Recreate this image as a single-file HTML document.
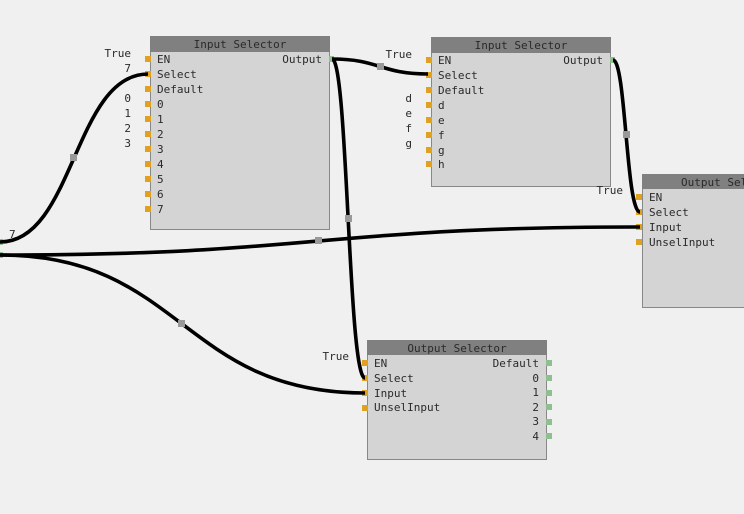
<!DOCTYPE html>
<html><head><meta charset="utf-8"><style>
html,body{margin:0;padding:0;background:#f0f0f0;}
svg{display:block;}
text{font-family:"DejaVu Sans Mono","Liberation Mono",monospace;font-size:11px;fill:#2a2a2a;}
</style></head><body>
<svg width="744" height="514" viewBox="0 0 744 514" xmlns="http://www.w3.org/2000/svg">
<rect width="744" height="514" fill="#f0f0f0"/>
<!-- Node 1 -->
<rect x="150.5" y="36.5" width="179" height="193" fill="#d4d4d4" stroke="#888"/>
<rect x="150" y="36" width="180" height="16" fill="#808080"/>
<text x="240" y="48" text-anchor="middle">Input Selector</text>
<g fill="#e0a020">
<rect x="145" y="56" width="6" height="6"/><rect x="145" y="71" width="6" height="6"/><rect x="145" y="86" width="6" height="6"/>
<rect x="145" y="101" width="6" height="6"/><rect x="145" y="116" width="6" height="6"/><rect x="145" y="131" width="6" height="6"/>
<rect x="145" y="146" width="6" height="6"/><rect x="145" y="161" width="6" height="6"/><rect x="145" y="176" width="6" height="6"/>
<rect x="145" y="191" width="6" height="6"/><rect x="145" y="206" width="6" height="6"/>
</g>
<rect x="329" y="56" width="5" height="6" fill="#8fbf8f"/>
<text x="157" y="63">EN</text><text x="157" y="78">Select</text><text x="157" y="93">Default</text>
<text x="157" y="108">0</text><text x="157" y="123">1</text><text x="157" y="138">2</text><text x="157" y="153">3</text>
<text x="157" y="168">4</text><text x="157" y="183">5</text><text x="157" y="198">6</text><text x="157" y="213">7</text>
<text x="322" y="63" text-anchor="end">Output</text>
<text x="131" y="57" text-anchor="end">True</text><text x="131" y="72" text-anchor="end">7</text>
<text x="131" y="102" text-anchor="end">0</text><text x="131" y="117" text-anchor="end">1</text>
<text x="131" y="132" text-anchor="end">2</text><text x="131" y="147" text-anchor="end">3</text>

<!-- Node 2 -->
<rect x="431.5" y="37.5" width="179" height="149" fill="#d4d4d4" stroke="#888"/>
<rect x="431" y="37" width="180" height="16" fill="#808080"/>
<text x="521" y="49" text-anchor="middle">Input Selector</text>
<g fill="#e0a020">
<rect x="426" y="57" width="6" height="6"/><rect x="426" y="72" width="6" height="6"/><rect x="426" y="87" width="6" height="6"/>
<rect x="426" y="102" width="6" height="6"/><rect x="426" y="117" width="6" height="6"/><rect x="426" y="132" width="6" height="6"/>
<rect x="426" y="147" width="6" height="6"/><rect x="426" y="161" width="6" height="6"/>
</g>
<rect x="610" y="57" width="5" height="6" fill="#8fbf8f"/>
<text x="438" y="64">EN</text><text x="438" y="79">Select</text><text x="438" y="94">Default</text>
<text x="438" y="109">d</text><text x="438" y="124">e</text><text x="438" y="139">f</text><text x="438" y="154">g</text><text x="438" y="168">h</text>
<text x="603" y="64" text-anchor="end">Output</text>
<text x="412" y="58" text-anchor="end">True</text>
<text x="412" y="102" text-anchor="end">d</text><text x="412" y="117" text-anchor="end">e</text>
<text x="412" y="132" text-anchor="end">f</text><text x="412" y="147" text-anchor="end">g</text>

<!-- Node 3 -->
<rect x="642.5" y="174.5" width="110" height="133" fill="#d4d4d4" stroke="#888"/>
<rect x="642" y="174" width="110" height="15" fill="#808080"/>
<text x="681" y="186">Output Selector</text>
<g fill="#e0a020">
<rect x="636" y="194" width="6" height="6"/><rect x="636" y="209" width="6" height="6"/>
<rect x="636" y="224" width="6" height="6"/><rect x="636" y="239" width="6" height="6"/>
</g>
<text x="649" y="201">EN</text><text x="649" y="216">Select</text><text x="649" y="231">Input</text><text x="649" y="246">UnselInput</text>
<text x="623" y="194" text-anchor="end">True</text>

<!-- Node 4 -->
<rect x="367.5" y="340.5" width="179" height="119" fill="#d4d4d4" stroke="#888"/>
<rect x="367" y="340" width="180" height="15" fill="#808080"/>
<text x="457" y="352" text-anchor="middle">Output Selector</text>
<g fill="#e0a020">
<rect x="362" y="360" width="6" height="6"/><rect x="362" y="375" width="6" height="6"/>
<rect x="362" y="390" width="6" height="6"/><rect x="362" y="405" width="6" height="6"/>
</g>
<g fill="#8fbf8f">
<rect x="546" y="360" width="6" height="6"/><rect x="546" y="375" width="6" height="6"/><rect x="546" y="390" width="6" height="6"/>
<rect x="546" y="404" width="6" height="6"/><rect x="546" y="419" width="6" height="6"/><rect x="546" y="433" width="6" height="6"/>
</g>
<text x="374" y="367">EN</text><text x="374" y="382">Select</text><text x="374" y="397">Input</text><text x="374" y="411">UnselInput</text>
<text x="539" y="367" text-anchor="end">Default</text><text x="539" y="382" text-anchor="end">0</text>
<text x="539" y="396" text-anchor="end">1</text><text x="539" y="411" text-anchor="end">2</text>
<text x="539" y="425" text-anchor="end">3</text><text x="539" y="440" text-anchor="end">4</text>
<text x="349" y="360" text-anchor="end">True</text>

<!-- source ports -->
<rect x="0" y="239" width="3" height="6" fill="#8fbf8f"/>
<rect x="0" y="252" width="3" height="6" fill="#8fbf8f"/>
<text x="9" y="238">7</text>

<!-- wires -->
<g fill="none" stroke="#000" stroke-width="3.6">
<path d="M0,242 C74,242 74,74 148,74"/>
<path d="M0,255 C318,255 318,227 640,227"/>
<path d="M0,255 C182,255 182,393 365,393"/>
<path d="M332,59 C348,59 348,378 365,378"/>
<path d="M332,59 C380,59 380,74 428,74"/>
<path d="M613,60 C626,60 626,212 640,212"/>
</g>
<g fill="#999">
<rect x="70" y="154" width="7" height="7"/>
<rect x="315" y="237" width="7" height="7"/>
<rect x="178" y="320" width="7" height="7"/>
<rect x="345" y="215" width="7" height="7"/>
<rect x="377" y="63" width="7" height="7"/>
<rect x="623" y="131" width="7" height="7"/>
</g>
</svg>
</body></html>
